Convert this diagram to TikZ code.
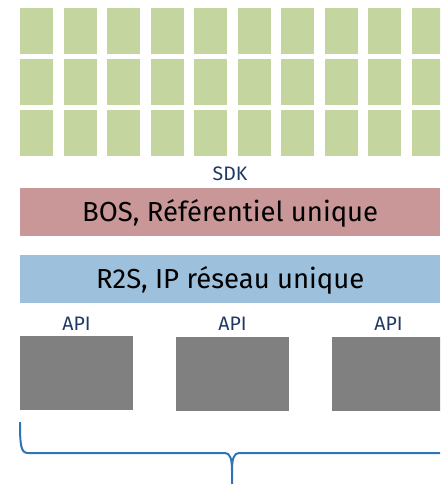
\documentclass[tikz,border=0pt]{standalone}
\usepackage{fontspec}
\setmainfont{Fira Sans}
\definecolor{tilegreen}{HTML}{C4D59F}
\definecolor{bospink}{HTML}{C99797}
\definecolor{r2sblue}{HTML}{9DC0DC}
\definecolor{apigray}{HTML}{808080}
\definecolor{navy}{HTML}{1F3864}
\definecolor{bracecol}{HTML}{2E75B6}
\begin{document}
\begin{tikzpicture}[x=1pt,y=-1pt,
  tile/.style={fill=tilegreen, draw=none, minimum width=33pt, minimum height=46pt, inner sep=0pt, anchor=north west},
  bar/.style={draw=none, minimum width=420pt, minimum height=47.5pt, inner sep=0pt, anchor=north west, font=\fontsize{27.5}{30}\selectfont, text=black, text height=19pt},
  apibox/.style={fill=apigray, draw=none, minimum width=113pt, minimum height=74pt, inner sep=0pt, anchor=north west},
  lbl/.style={text=navy, inner sep=0pt},
  bracepath/.style={draw=bracecol, line width=2pt}]
\useasboundingbox (0,0) rectangle (440,484);
\clip (0,0) rectangle (440,484);
\foreach \c/\x in {1/20,2/63.5,3/107,4/150.5,5/194,6/237.5,7/281,8/324.5,9/368,10/411.5}{
  \foreach \r/\y in {1/8,2/59,3/110}{
    \node[tile] (t-\r-\c) at (\x,\y) {};
  }
}
\node[lbl, font=\fontsize{19.5}{22}\selectfont] (sdk) at (230,174) {SDK};
\node[bar, fill=bospink, text depth=-5.4pt] (bos) at (20,188) {BOS, Référentiel unique};
\node[bar, fill=r2sblue, text depth=-1.4pt] (r2s) at (20,255.2) {R2S, IP réseau unique};
\node[apibox] (b1) at (20,336) {};
\node[apibox] (b2) at (176,337) {};
\node[apibox] (b3) at (332,337) {};
\node[lbl, font=\fontsize{19.5}{22}\selectfont] (a1) at (76.5,324) {API};
\node[lbl, font=\fontsize{19.5}{22}\selectfont] (a2) at (232.5,324) {API};
\node[lbl, font=\fontsize{19.5}{22}\selectfont] (a3) at (388.5,324) {API};
\coordinate (bl) at (20,422);
\coordinate (btip) at (232,490);
\coordinate (br) at (450,453);
\draw[bracepath] (bl) .. controls (20,446) and (21,453) .. (28,453) -- (225,453)
  .. controls (230,453) and (232,459) .. (232,470) -- (btip);
\draw[bracepath] (232,470) .. controls (232,459) and (234,453) .. (239,453) -- (br);
\end{tikzpicture}
\end{document}
